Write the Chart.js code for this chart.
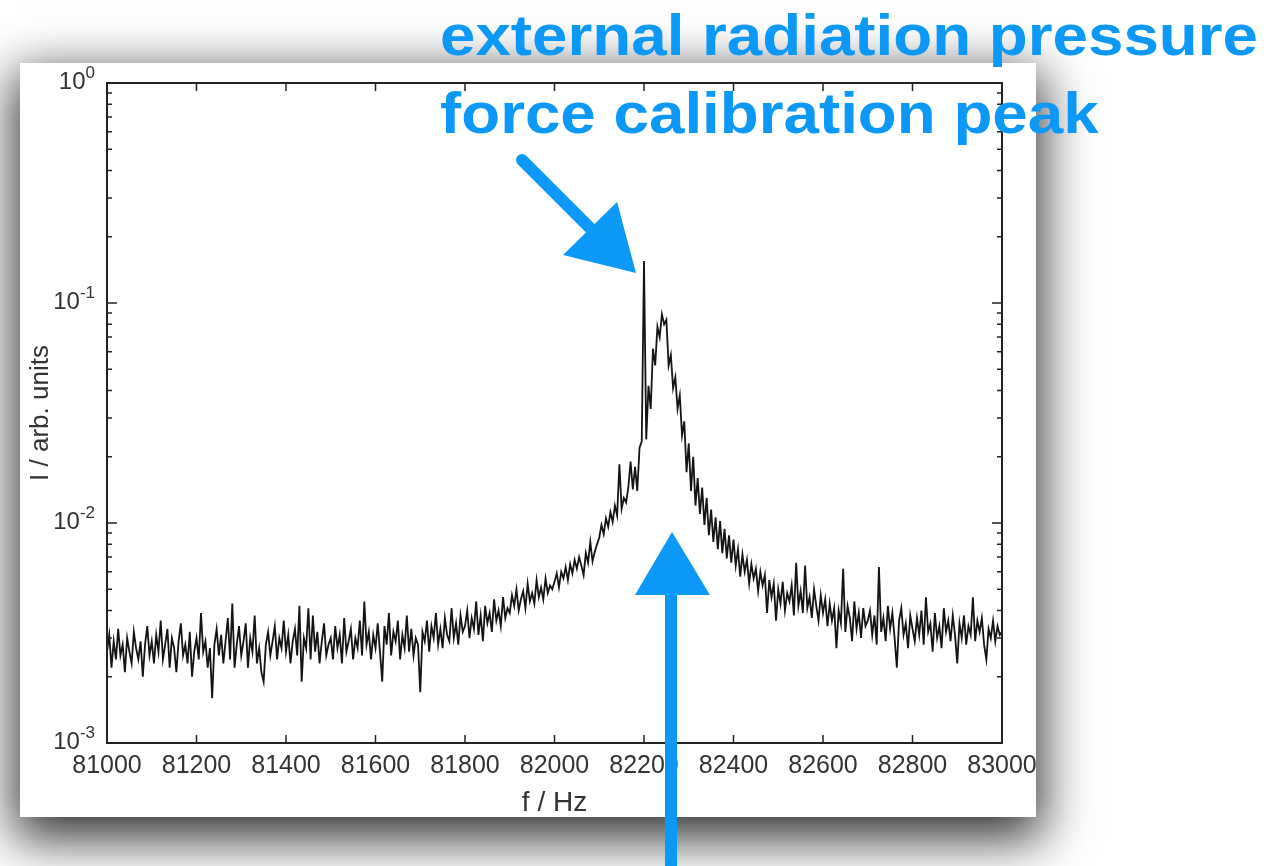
<!DOCTYPE html>
<html>
<head>
<meta charset="utf-8">
<title>Calibration peak spectrum</title>
<script src="https://cdn.jsdelivr.net/npm/chart.js@4.4.1/dist/chart.umd.min.js"></script>
<style>
  html, body { margin: 0; padding: 0; background: #fff; width: 1286px; height: 866px; overflow: hidden; }
  #card { position: absolute; left: 20px; top: 63px; width: 1016px; height: 754px; background: #fff; box-shadow: 0 16px 48px 6px rgba(0,0,0,0.8); }
  #spectrumChart { position: absolute; left: 0; top: 0; }
</style>
</head>
<body>
<div id="card"></div>
<canvas id="spectrumChart" width="1286" height="866"></canvas>
<script>
// sampling grid of the spectrum
const freqStart = 81000;
const freqStep = 5;

// intensity in units of 1e-3 (arb. units), 5 Hz apart
// 81000 - 81995 Hz
const leftWing = [
  2.6, 3.1, 2.2, 2.9, 2.4, 3.3, 2.5, 2.8, 2.1, 3.0, 2.6, 2.3, 3.2, 2.7, 2.4, 2.9, 2.0, 2.8, 3.4, 2.5,
  2.9, 2.3, 3.1, 2.6, 3.6, 2.4, 2.8, 3.3, 2.2, 3.0, 2.7, 2.1, 2.9, 3.5, 2.5, 2.8, 2.3, 3.2, 2.0, 2.6,
  3.0, 2.4, 3.9, 2.6, 2.9, 2.2, 2.7, 1.6, 2.8, 3.3, 2.5, 3.1, 2.3, 2.9, 3.7, 2.4, 4.3, 2.2, 2.8, 3.4,
  2.5, 2.9, 3.5, 2.2, 3.0, 2.6, 3.8, 2.3, 2.7, 2.1, 1.9, 2.8, 3.2, 2.5, 2.9, 3.4, 2.4, 3.0, 2.7, 3.6,
  2.6, 3.1, 2.3, 2.9, 3.3, 2.5, 4.2, 1.9, 3.0, 2.7, 4.1, 2.4, 3.8, 2.6, 3.2, 2.3, 2.9, 3.5, 2.5, 2.8,
  3.0, 2.4, 3.4, 2.7, 3.1, 2.3, 3.7, 2.6, 2.9, 3.3, 2.4, 3.0, 2.7, 3.6, 2.5, 4.4, 2.8, 3.2, 2.4, 3.1,
  2.7, 3.5, 2.6, 1.9, 3.4, 2.8, 3.9, 2.5, 3.2, 2.9, 3.6, 2.4, 3.1, 2.7, 3.8, 2.6, 3.3, 2.5, 3.0, 2.8,
  1.7, 3.2, 2.9, 3.6, 2.6, 3.4, 3.0, 3.9, 2.8, 3.3, 2.7, 3.7, 3.1, 2.9, 4.1, 3.0, 3.5, 2.8, 3.8, 3.2,
  3.4, 4.0, 3.0, 3.7, 3.3, 4.4, 3.1, 3.8, 2.9, 4.2, 3.5, 3.9, 3.2, 4.5, 3.6, 4.0, 3.4, 4.6, 3.7, 4.1,
  3.9, 4.7, 4.2, 5.0, 4.0, 4.5, 4.9, 4.1, 5.3, 4.4, 4.8, 4.3, 5.5, 4.6, 5.1, 4.5, 5.6, 4.8, 5.2, 5.0
];
// 82000 - 82395 Hz (calibration spike at 82200)
const peakRegion = [
  5.4, 5.9, 5.1, 6.0, 5.6, 6.3, 5.5, 6.5, 5.9, 6.8, 6.2, 7.0, 6.4, 5.8, 7.3, 6.6, 8.2, 6.7, 7.4, 8.0,
  8.6, 9.8, 8.9, 10.5, 9.6, 11.2, 10.1, 12.0, 10.8, 18.5, 11.6, 13.0, 12.4, 14.5, 19.0, 14.2, 18.0, 14.0, 22.0, 23.5,
  155, 24, 42, 33, 62, 52, 78, 70, 89, 80, 84, 52, 58, 41, 46, 33, 38, 25, 29, 17,
  23, 14, 20, 12, 16, 11, 14.5, 9.8, 13, 8.8, 11.5, 8.2, 10.6, 7.6, 10.2, 7.3, 9.4, 6.9, 8.8, 6.6
];
// 82400 - 83000 Hz
const rightWing = [
  8.4, 6.4, 7.6, 5.7, 7.2, 6.0, 6.8, 5.3, 6.5, 5.6, 6.2, 4.9, 6.0, 5.2, 5.8, 3.9, 5.5, 4.6, 5.3, 3.6,
  5.0, 4.3, 5.4, 4.0, 4.8, 4.4, 5.2, 3.8, 6.6, 4.2, 4.9, 3.9, 6.4, 4.1, 4.6, 3.7, 5.0, 4.2, 3.6, 4.7,
  3.9, 4.5, 3.4, 4.3, 3.6, 4.1, 2.7, 4.0, 3.5, 6.2, 3.2, 4.2, 3.7, 2.9, 4.4, 3.3, 3.9, 3.0, 4.1, 3.4,
  3.6, 4.0, 3.1, 3.8, 2.8, 6.3, 3.2, 3.7, 2.9, 4.2, 3.3, 3.9, 3.0, 2.2, 3.6, 4.1, 3.1, 3.5, 2.7, 3.8,
  3.3, 2.9, 3.7, 3.1, 4.0, 2.8, 4.6, 3.2, 3.5, 2.6, 3.9, 3.0, 3.4, 2.7, 4.1, 3.2, 3.6, 2.9, 3.8, 3.1,
  2.3, 3.5, 3.0, 3.8, 2.8, 3.4, 3.1, 4.6, 2.9, 3.6, 3.2, 3.7, 2.8, 2.4, 3.3, 3.0, 3.6, 2.9, 3.4, 3.1, 3.2
];

const xTickValues = [81000, 81200, 81400, 81600, 81800, 82000, 82200, 82400, 82600, 82800, 83000];
const yDecades = [1e-3, 1e-2, 1e-1, 1];
const yExponents = ['-3', '-2', '-1', '0'];

const noteLines = ['external radiation pressure', 'force calibration peak'];

const blue = '#0b98f7';
const cardRect = { left: 20, top: 63, right: 1036, bottom: 817 };

const intensity = [...leftWing, ...peakRegion, ...rightWing];
const points = intensity.map((v, i) => ({ x: freqStart + i * freqStep, y: v * 1e-3 }));

Chart.defaults.font.family = '"Liberation Sans", Arial, sans-serif';
Chart.defaults.color = '#333';

const drawArrow = (ctx, shaft, head) => {
  ctx.beginPath();
  ctx.moveTo(shaft[0][0], shaft[0][1]);
  ctx.lineTo(shaft[1][0], shaft[1][1]);
  ctx.stroke();
  ctx.beginPath();
  ctx.moveTo(head[0][0], head[0][1]);
  head.slice(1).forEach(p => ctx.lineTo(p[0], p[1]));
  ctx.closePath();
  ctx.fill();
};

const frameAndNotes = {
  id: 'frameAndNotes',
  beforeDraw(chart) {
    // the card cuts off whatever sticks out of it (the last tick label)
    const ctx = chart.ctx;
    ctx.save();
    ctx.beginPath();
    ctx.rect(cardRect.left, cardRect.top, cardRect.right - cardRect.left, cardRect.bottom - cardRect.top);
    ctx.clip();
  },
  afterDraw(chart) {
    const { ctx, chartArea: a, scales: { x, y } } = chart;
    ctx.restore();
    ctx.save();

    // inward ticks on all four sides
    ctx.strokeStyle = '#222';
    ctx.lineWidth = 1.5;
    ctx.beginPath();
    xTickValues.forEach(v => {
      const px = x.getPixelForValue(v);
      ctx.moveTo(px, a.bottom); ctx.lineTo(px, a.bottom - 8);
      ctx.moveTo(px, a.top); ctx.lineTo(px, a.top + 8);
    });
    yDecades.forEach((d, i) => {
      const py = y.getPixelForValue(d);
      ctx.moveTo(a.left, py); ctx.lineTo(a.left + 10, py);
      ctx.moveTo(a.right, py); ctx.lineTo(a.right - 10, py);
      if (i < yDecades.length - 1) {
        for (let m = 2; m <= 9; m++) {
          const pm = y.getPixelForValue(d * m);
          ctx.moveTo(a.left, pm); ctx.lineTo(a.left + 5, pm);
          ctx.moveTo(a.right, pm); ctx.lineTo(a.right - 5, pm);
        }
      }
    });
    ctx.stroke();

    ctx.lineWidth = 2;
    ctx.strokeRect(a.left, a.top, a.right - a.left, a.bottom - a.top);

    // y tick labels as 10 with a raised exponent
    ctx.fillStyle = '#333';
    ctx.textAlign = 'right';
    ctx.textBaseline = 'alphabetic';
    yDecades.forEach((d, i) => {
      const py = y.getPixelForValue(d);
      ctx.font = '17px "Liberation Sans", Arial, sans-serif';
      const expW = ctx.measureText(yExponents[i]).width;
      ctx.fillText(yExponents[i], a.left - 12, py - 5);
      ctx.font = '24px "Liberation Sans", Arial, sans-serif';
      ctx.fillText('10', a.left - 12 - expW, py + 6);
    });

    // hand-drawn style annotation
    ctx.fillStyle = blue;
    ctx.strokeStyle = blue;
    ctx.lineWidth = 12;
    ctx.lineCap = 'round';
    drawArrow(ctx, [[522, 160], [610, 248]], [[617, 202], [563, 255], [636, 273]]);
    drawArrow(ctx, [[671, 872], [671, 580]], [[672, 532], [635, 595], [710, 595]]);

    ctx.font = 'bold 58px "Liberation Sans", Arial, sans-serif';
    ctx.textAlign = 'left';
    const sx = 818 / ctx.measureText(noteLines[0]).width;
    [[noteLines[0], 55], [noteLines[1], 133]].forEach(([txt, base]) => {
      ctx.save();
      ctx.translate(440, base);
      ctx.scale(sx, 1);
      ctx.fillText(txt, 0, 0);
      ctx.restore();
    });

    ctx.restore();
  }
};

const ctx = document.getElementById('spectrumChart').getContext('2d');
new Chart(ctx, {
  type: 'line',
  data: {
    datasets: [{
      data: points,
      borderColor: '#141414',
      borderWidth: 1.8,
      pointRadius: 0,
      tension: 0,
      fill: false
    }]
  },
  options: {
    responsive: false,
    animation: false,
    devicePixelRatio: 1,
    layout: { padding: { left: 20, top: 83, right: 284, bottom: 46 } },
    plugins: { legend: { display: false }, tooltip: { enabled: false } },
    scales: {
      x: {
        type: 'linear',
        min: 81000,
        max: 83000,
        afterBuildTicks: (scale) => { scale.ticks = xTickValues.map(v => ({ value: v })); },
        afterFit: (scale) => { scale.height = 77; },
        grid: { display: false, drawTicks: false },
        border: { display: false },
        ticks: {
          padding: 8,
          autoSkip: false,
          maxRotation: 0,
          font: { size: 25 },
          color: '#333',
          callback: (v) => String(v)
        },
        title: { display: true, text: 'f / Hz', font: { size: 28 }, color: '#333', padding: { top: 0, bottom: 0 } }
      },
      y: {
        type: 'logarithmic',
        min: 0.001,
        max: 1,
        afterFit: (scale) => { scale.width = 87; },
        grid: { display: false, drawTicks: false },
        border: { display: false },
        ticks: { display: false },
        title: { display: true, text: 'I / arb. units', font: { size: 26 }, color: '#333', padding: { top: 5, bottom: 0 } }
      }
    }
  },
  plugins: [frameAndNotes]
});
</script>
</body>
</html>
